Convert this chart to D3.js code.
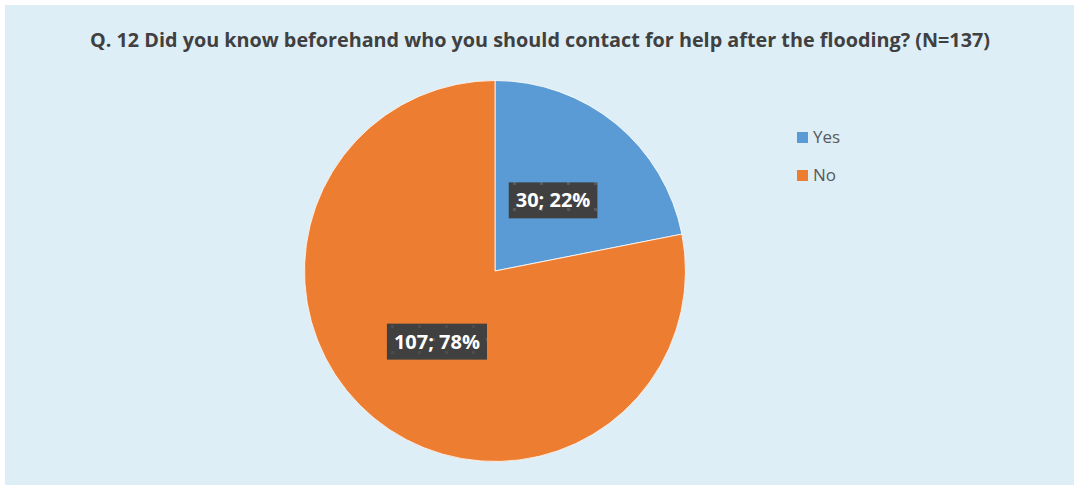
<!DOCTYPE html>
<html>
<head>
<meta charset="utf-8">
<script src="https://cdn.jsdelivr.net/npm/d3@7"></script>
<style>
  html, body { margin: 0; padding: 0; background: #ffffff; }
  svg { display: block; }
</style>
</head>
<body>
<svg id="chart" width="1075" height="486"></svg>
<script>
// Survey answers
const categories = ["Yes", "No"];
const counts = [30, 107];
const percents = [22, 78];
const colors = ["#5b9bd5", "#ed7d31"];
const title = "Q. 12 Did you know beforehand who you should contact for help after the flooding? (N=137)";

const svg = d3.select("#chart");
const W = 1075, H = 486;

// Panel background
svg.append("rect")
  .attr("x", 5).attr("y", 5)
  .attr("width", W - 6).attr("height", H - 6)
  .attr("fill", "#deeef6");

// Speckled dark fill for the data labels
const defs = svg.append("defs");
const pat = defs.append("pattern")
  .attr("id", "labelFill")
  .attr("patternUnits", "userSpaceOnUse")
  .attr("width", 27).attr("height", 26);
pat.append("rect").attr("width", 27).attr("height", 26).attr("fill", "#404040");
pat.append("rect").attr("x", 0).attr("y", 0).attr("width", 3).attr("height", 3).attr("fill", "#5a5a5a");
pat.append("rect").attr("x", 13).attr("y", 13).attr("width", 3).attr("height", 3).attr("fill", "#4c4c4c");

// Title
const t = svg.append("text")
  .attr("x", 540).attr("y", 47)
  .attr("text-anchor", "middle")
  .attr("font-family", "'Open Sans', 'DejaVu Sans', sans-serif")
  .attr("font-weight", "bold")
  .attr("font-size", 20)
  .attr("fill", "#404040")
  .text(title);
t.attr("textLength", 900).attr("lengthAdjust", "spacingAndGlyphs");

// Pie
const cx = 495, cy = 271, r = 190.5;
const data = categories.map((c, i) => ({ cat: c, count: counts[i], pct: percents[i], color: colors[i] }));
const pie = d3.pie().value(d => d.count).sort(null);
const arc = d3.arc().innerRadius(0).outerRadius(r);
const arcs = pie(data);

const g = svg.append("g").attr("transform", `translate(${cx},${cy})`);
g.selectAll("path.slice")
  .data(arcs)
  .enter().append("path")
  .attr("class", "slice")
  .attr("d", arc)
  .attr("fill", d => d.data.color)
  .attr("stroke", "#ffffff")
  .attr("stroke-width", 0.8);

// Data labels along each slice's mid-angle
const labelArc = d3.arc().innerRadius(0).outerRadius(r * 0.96);
arcs.forEach((a) => {
  const [lx0, ly0] = labelArc.centroid(a);
  const lx = cx + lx0;
  const ly = cy + ly0;
  const lg = svg.append("g");
  const txt = lg.append("text")
    .attr("x", lx).attr("y", ly + 7)
    .attr("text-anchor", "middle")
    .attr("font-family", "'Open Sans', 'Liberation Sans', sans-serif")
    .attr("font-weight", "bold")
    .attr("font-size", 20)
    .attr("fill", "#ffffff")
    .text(`${a.data.count}; ${a.data.pct}%`);
  const bb = txt.node().getBBox();
  lg.insert("rect", "text")
    .attr("x", bb.x - 7).attr("y", ly - 18)
    .attr("width", bb.width + 14).attr("height", 36)
    .attr("fill", "url(#labelFill)");
});

// Legend
const legend = svg.append("g").attr("transform", "translate(797,132)");
const li = legend.selectAll("g.item")
  .data(data)
  .enter().append("g")
  .attr("class", "item")
  .attr("transform", (d, i) => `translate(0,${i * 38})`);
li.append("rect")
  .attr("width", 11).attr("height", 11)
  .attr("fill", d => d.color);
li.append("text")
  .attr("x", 16).attr("y", 11)
  .attr("font-family", "'Open Sans', 'Liberation Sans', sans-serif")
  .attr("font-size", 17)
  .attr("fill", "#595959")
  .text(d => d.cat);
</script>
</body>
</html>
